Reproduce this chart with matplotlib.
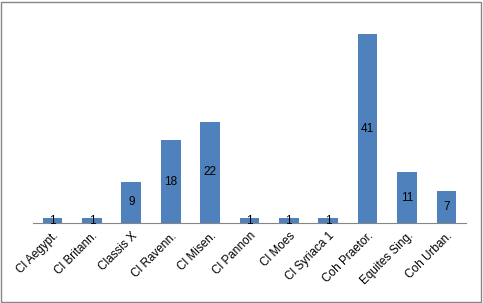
import numpy as np
import matplotlib.pyplot as plt
from matplotlib.patches import Rectangle

categories = ['Cl Aegypt.', 'Cl Britann.', 'Classis X', 'Cl Ravenn.', 'Cl Misen.',
              'Cl Pannon', 'Cl Moes', 'Cl Syriaca 1', 'Coh Praetor.',
              'Equites Sing.', 'Coh Urban.']
counts = [1, 1, 9, 18, 22, 1, 1, 1, 41, 11, 7]

plt.rcParams['font.family'] = ['Liberation Sans', 'DejaVu Sans']

fig = plt.figure(figsize=(4.83, 3.03), dpi=100)
ax = fig.add_axes([0.068, 0.264, 0.897, 0.683])

x = np.arange(len(categories))
bars = ax.bar(x, counts, width=0.5, color='#4F81BD')

# value labels in the middle of each bar
for xi, v in zip(x, counts):
    ax.text(xi, v / 2, str(v), ha='center', va='center', fontsize=8.5, color='black')

ax.set_xlim(-0.5, len(categories) - 0.5)
ax.set_ylim(0, 45)
ax.set_xticks(x)
ax.set_xticklabels(categories, rotation=45, ha='right', rotation_mode='anchor', fontsize=8.5)
ax.tick_params(axis='x', length=0, pad=5)
ax.set_yticks([])
for s in ['top', 'right', 'left']:
    ax.spines[s].set_visible(False)
ax.spines['bottom'].set_color('#868686')

# outer chart border
fig.patches.append(Rectangle((0.002, 0.003), 0.994, 0.992, transform=fig.transFigure,
                             fill=False, edgecolor='#868686', linewidth=1))

fig.savefig('out.png', dpi=100)
